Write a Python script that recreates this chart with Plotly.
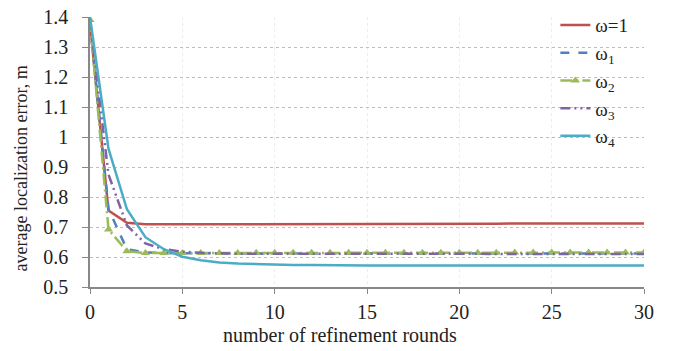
import plotly.graph_objects as go

rounds = list(range(0, 31))

w_one = [1.38, 0.755, 0.714, 0.709, 0.709, 0.709, 0.709, 0.709, 0.709, 0.709,
         0.710, 0.710, 0.710, 0.710, 0.710, 0.710, 0.711, 0.711, 0.711, 0.711,
         0.711, 0.711, 0.711, 0.712, 0.712, 0.712, 0.712, 0.712, 0.712, 0.712, 0.712]
w_1 = [1.38, 0.76, 0.626, 0.615, 0.613, 0.612, 0.612, 0.612, 0.612, 0.612,
       0.612, 0.612, 0.612, 0.612, 0.612, 0.612, 0.612, 0.612, 0.612, 0.612,
       0.612, 0.612, 0.612, 0.612, 0.612, 0.612, 0.612, 0.612, 0.612, 0.612, 0.612]
w_2 = [1.39, 0.692, 0.619, 0.613, 0.613, 0.613, 0.613, 0.613, 0.613, 0.614,
       0.614, 0.614, 0.614, 0.614, 0.614, 0.614, 0.614, 0.614, 0.614, 0.614,
       0.614, 0.614, 0.614, 0.615, 0.615, 0.615, 0.615, 0.615, 0.615, 0.615, 0.615]
w_3 = [1.39, 0.875, 0.705, 0.645, 0.626, 0.618, 0.614, 0.612, 0.611, 0.611,
       0.611, 0.610, 0.610, 0.610, 0.610, 0.610, 0.610, 0.610, 0.610, 0.610,
       0.610, 0.610, 0.610, 0.610, 0.610, 0.610, 0.610, 0.610, 0.610, 0.610, 0.610]
w_4 = [1.40, 0.961, 0.759, 0.666, 0.626, 0.601, 0.589, 0.582, 0.578, 0.576,
       0.574, 0.573, 0.573, 0.572, 0.572, 0.572, 0.572, 0.572, 0.572, 0.572,
       0.572, 0.572, 0.572, 0.572, 0.572, 0.572, 0.572, 0.572, 0.572, 0.572, 0.572]

names = ["ω=1", "ω<sub>1</sub>", "ω<sub>2</sub>", "ω<sub>3</sub>", "ω<sub>4</sub>"]
series = [w_one, w_1, w_2, w_3, w_4]
colors = ["#C0504D", "#4F81BD", "#9BBB59", "#8064A2", "#4BACC6"]
dashes = ["solid", "dash", "12px,4px,2px,4px", "10px,4px,2px,4px,2px,4px", "solid"]

x_ticks = [0, 5, 10, 15, 20, 25, 30]
y_ticks = [0.5, 0.6, 0.7, 0.8, 0.9, 1.0, 1.1, 1.2, 1.3, 1.4]
y_ticktext = ["0.5", "0.6", "0.7", "0.8", "0.9", "1", "1.1", "1.2", "1.3", "1.4"]

x_title = "number of refinement rounds"
y_title = "average localization error, m"

fig = go.Figure()
for name, vals, col, dsh in zip(names, series, colors, dashes):
    is_green = col == "#9BBB59"
    fig.add_trace(go.Scatter(
        x=rounds, y=vals, name=name,
        mode="lines+markers" if is_green else "lines",
        line=dict(color=col, width=2.5, dash=dsh),
        marker=dict(symbol="triangle-up", size=8, color=col) if is_green else None,
    ))

font = "Liberation Serif"
fig.update_layout(
    width=684, height=351,
    margin=dict(l=90, r=40, t=6, b=64),
    paper_bgcolor="white", plot_bgcolor="white",
    font=dict(family=font, size=20, color="#222"),
    showlegend=True,
    legend=dict(x=0.84, y=1.04, xanchor="left", yanchor="top",
                bgcolor="rgba(255,255,255,0)", font=dict(size=19, family=font),
                tracegroupgap=0, itemwidth=30),
    xaxis=dict(range=[0, 30], tickvals=x_ticks,
               showgrid=True, gridcolor="#ececec", griddash="dot", gridwidth=1,
               showline=True, linecolor="#888", linewidth=1.5,
               ticks="outside", ticklen=5, tickcolor="#888",
               ticklabelstandoff=1, ticklabeloverflow="allow",
               zeroline=False, tickfont=dict(size=20)),
    yaxis=dict(range=[0.5, 1.4], tickvals=y_ticks, ticktext=y_ticktext,
               showgrid=True, gridcolor="#bdbdbd", griddash="dot", gridwidth=1,
               showline=True, linecolor="#888", linewidth=1.5,
               ticks="outside", ticklen=6, tickcolor="#888",
               ticklabelstandoff=10, ticklabeloverflow="allow",
               zeroline=False, tickfont=dict(size=20)),
    annotations=[
        dict(text=x_title, xref="paper", yref="paper", x=0.4516, y=-0.178,
             xanchor="center", yanchor="middle", showarrow=False,
             font=dict(size=20, family=font, color="#222")),
        dict(text=y_title, xref="paper", yref="paper", x=-0.124, y=0.44,
             xanchor="center", yanchor="middle", textangle=-90, showarrow=False,
             font=dict(size=18, family=font, color="#222")),
    ],
)

fig.write_html("out.html")
